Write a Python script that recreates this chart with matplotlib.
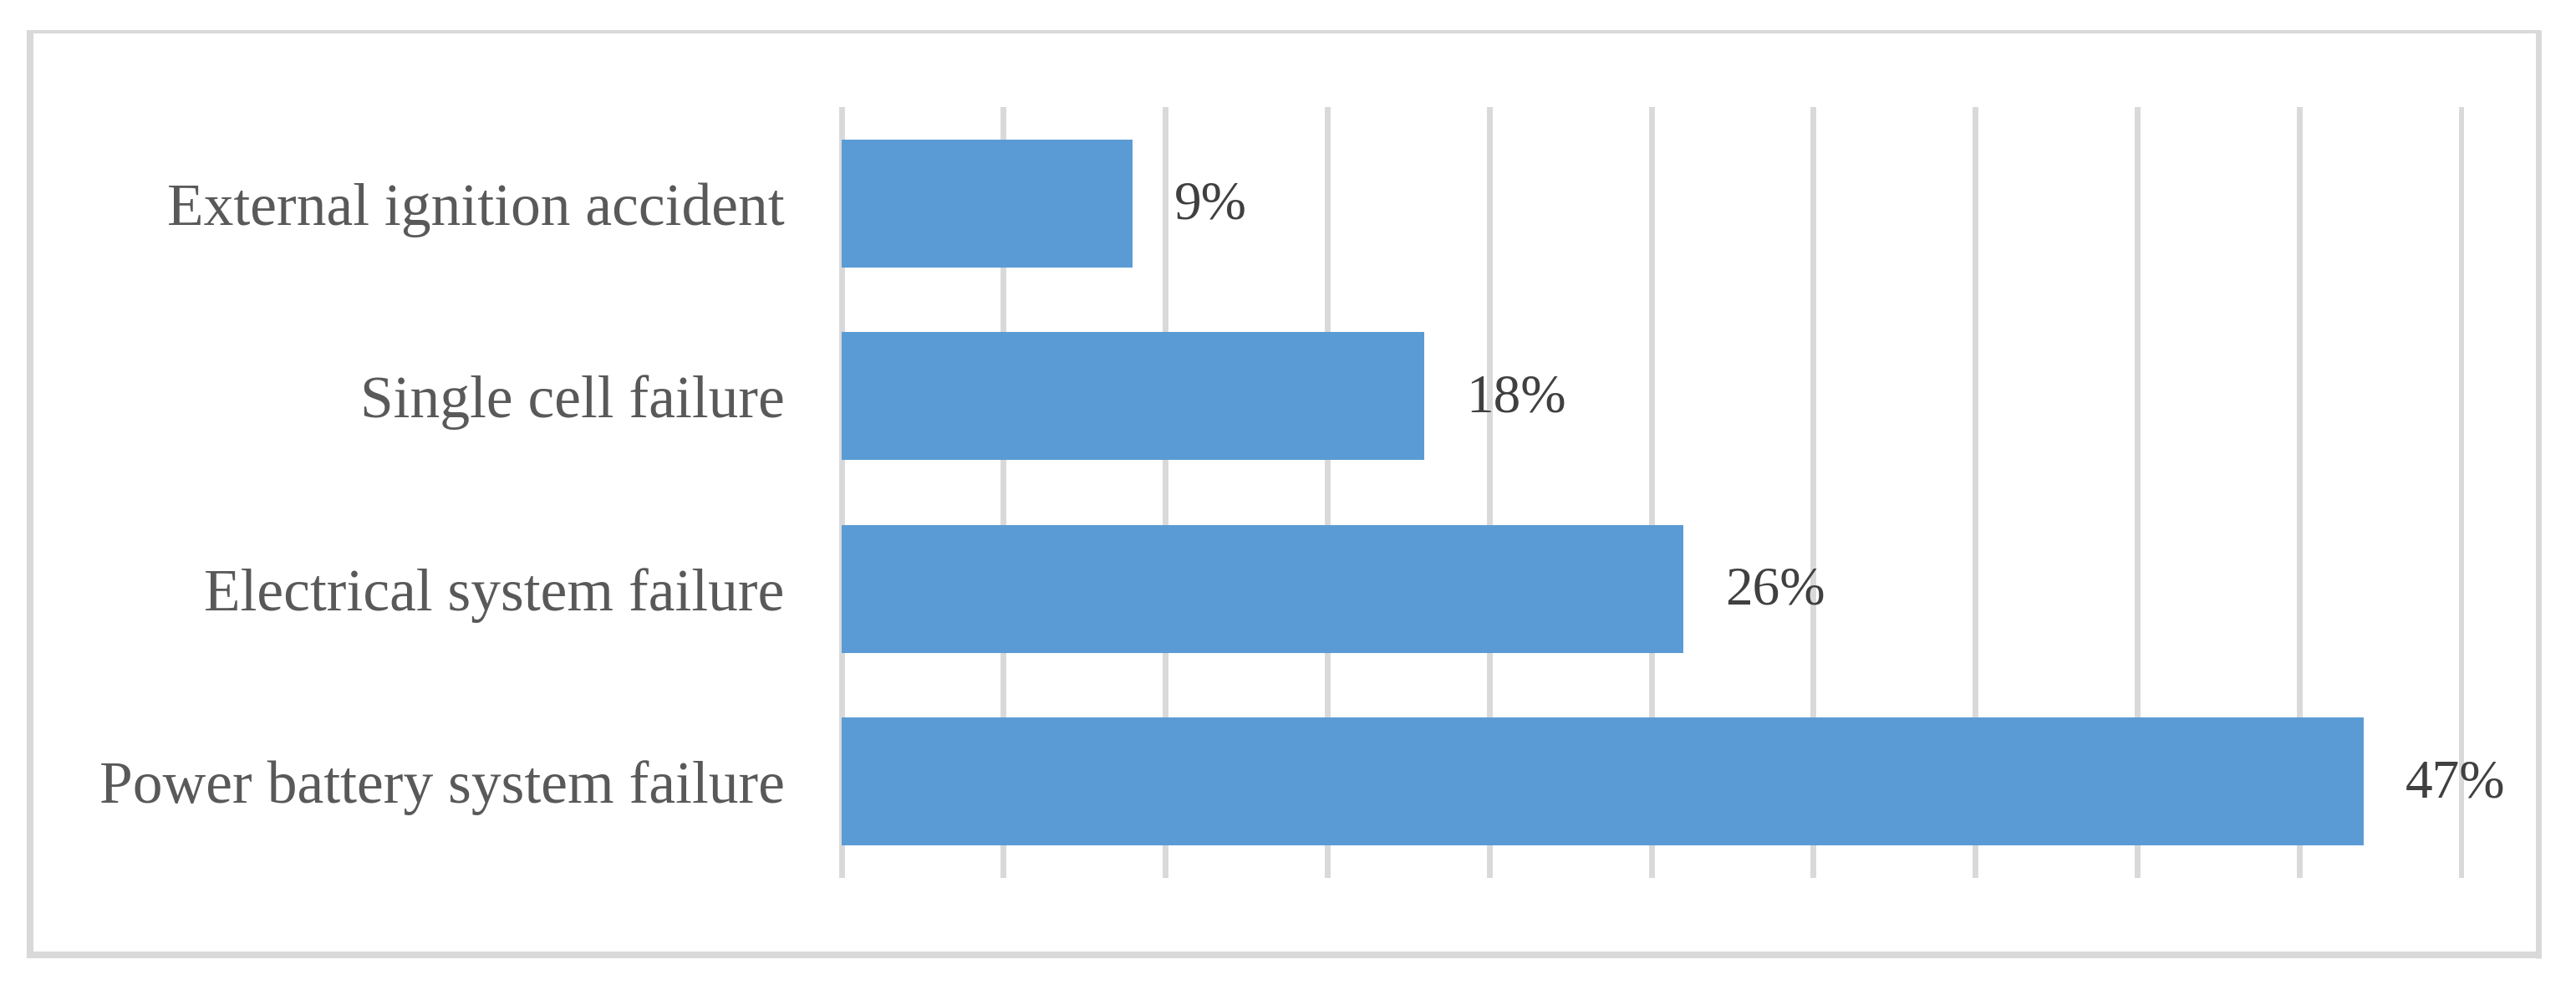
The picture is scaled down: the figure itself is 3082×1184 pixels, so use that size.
import matplotlib.pyplot as plt
from matplotlib.lines import Line2D

categories = ["Power battery system failure", "Electrical system failure",
              "Single cell failure", "External ignition accident"]
shares = [47, 26, 18, 9]
grid_ticks = [0, 5, 10, 15, 20, 25, 30, 35, 40, 45, 50]

W, H = 3082, 1184
fig = plt.figure(figsize=(W / 100, H / 100), dpi=100)
plt.rcParams['font.family'] = ['Liberation Serif', 'DejaVu Serif']

# axes box in pixels: x from 0 -> 1006.5 to 50 -> 2944.5, y 128..1050
px0, px50 = 1006.5, 2944.5
unit = (px50 - px0) / 50
xmin, xmax = -0.1, 50.1
left = (px0 + xmin * unit) / W
right = (px0 + xmax * unit) / W
ax = fig.add_axes([left, 1 - 1050 / H, right - left, (1050 - 128) / H])

ypos = list(range(len(categories)))
ax.barh(ypos, shares, height=0.665, color="#5B9BD5", zorder=3)
for y, v in zip(ypos, shares):
    ax.annotate(f"{v}%", xy=(v, y), xytext=(36, -2), textcoords="offset points",
                va="center", ha="left", fontsize=47, color="#404040")

ax.set_xlim(xmin, xmax)
ax.set_ylim(-0.5, 3.5)
ax.set_xticks(grid_ticks)
ax.set_yticks(ypos)
ax.set_yticklabels(categories, fontsize=51.5, color="#595959")
ax.tick_params(axis="y", length=0, pad=46)
ax.tick_params(axis="x", length=0, labelbottom=False)
ax.grid(axis="x", color="#D9D9D9", linewidth=5.0, zorder=0)
ax.set_axisbelow(True)
for s in ax.spines.values():
    s.set_visible(False)

# outer frame
c = "#D9D9D9"
fig.add_artist(Line2D([36 / W, 36 / W], [1 - 36 / H, 1 - 1146 / H], color=c, lw=5.8, solid_capstyle="butt"))
fig.add_artist(Line2D([3036.5 / W, 3036.5 / W], [1 - 36 / H, 1 - 1146 / H], color=c, lw=5.0, solid_capstyle="butt"))
fig.add_artist(Line2D([32 / W, 3040 / W], [1 - 38 / H, 1 - 38 / H], color=c, lw=2.9, solid_capstyle="butt"))
fig.add_artist(Line2D([32 / W, 3040 / W], [1 - 1142 / H, 1 - 1142 / H], color=c, lw=5.8, solid_capstyle="butt"))

fig.savefig("out.png", dpi=100)
